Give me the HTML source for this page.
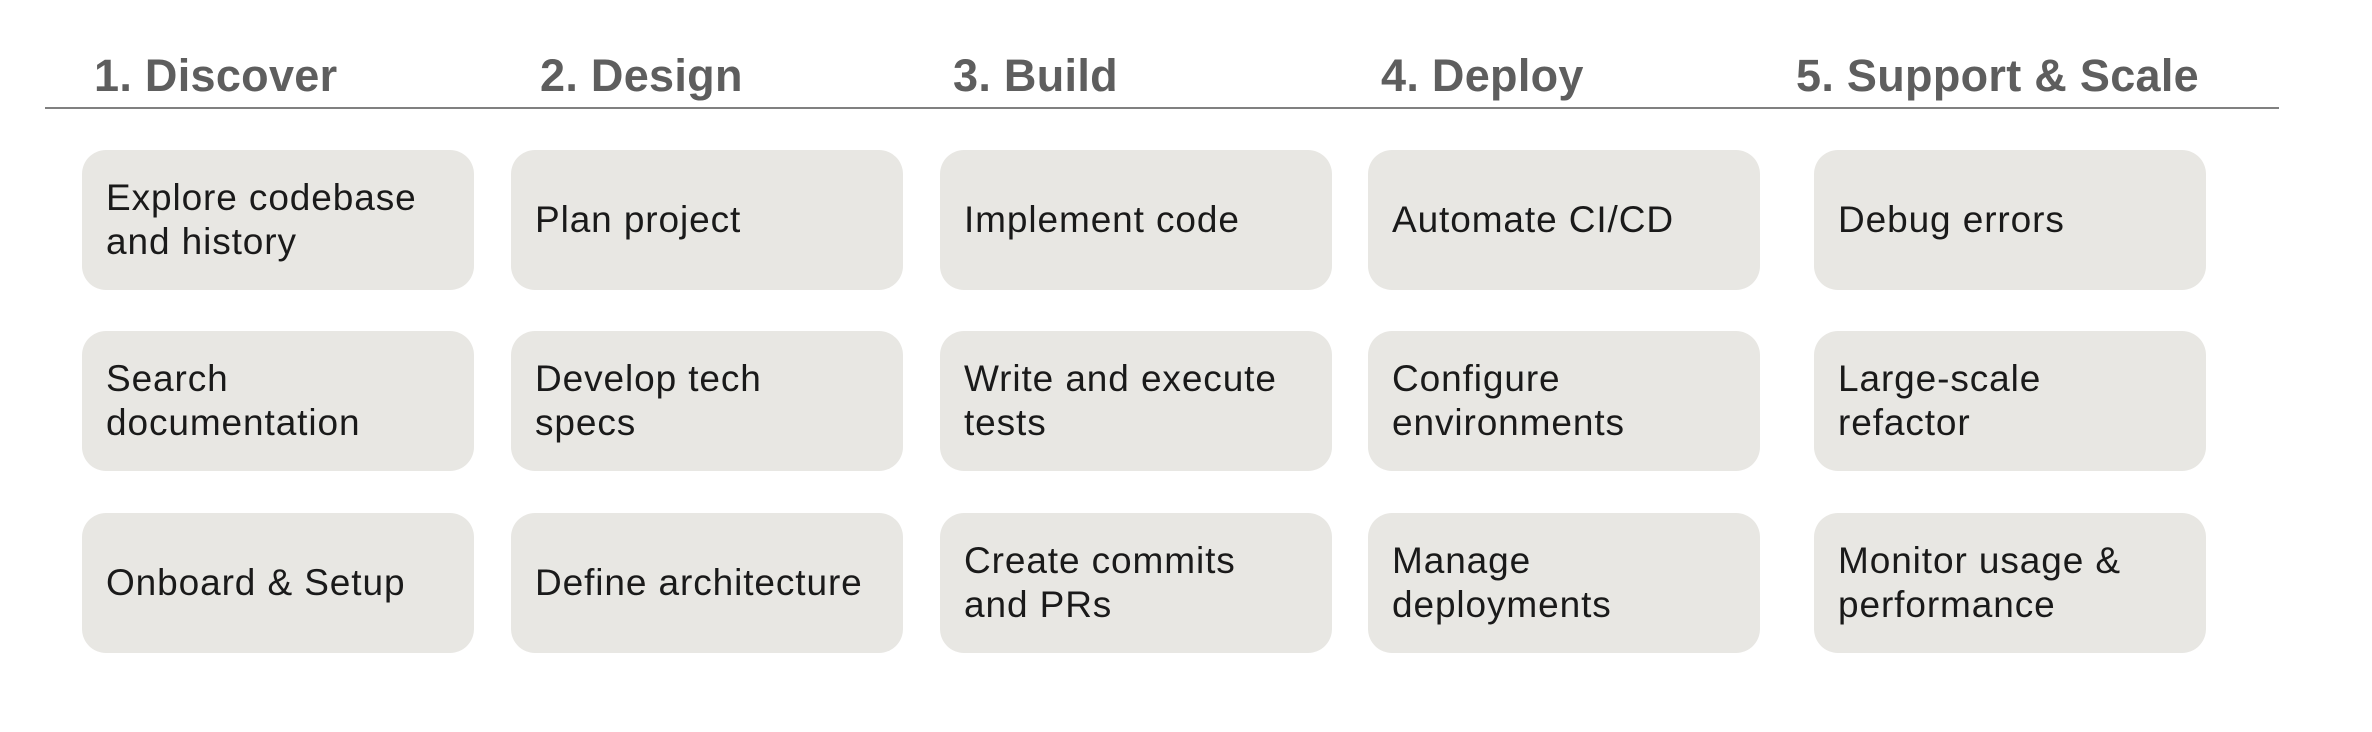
<!DOCTYPE html>
<html><head><meta charset="utf-8"><style>
html,body{margin:0;padding:0;background:#fff;}
body{width:2372px;height:732px;position:relative;overflow:hidden;font-family:"Liberation Sans",sans-serif;}
.h{position:absolute;top:50px;font-size:45px;font-weight:bold;color:#5e5e5e;line-height:52px;white-space:nowrap;letter-spacing:0.3px;}
.line{position:absolute;left:45px;top:107px;width:2234px;height:2px;background:#808080;}
.b{position:absolute;width:392px;height:140px;background:#e8e7e3;border-radius:24px;display:flex;align-items:center;box-sizing:border-box;padding-left:24px;font-size:37px;line-height:44px;color:#1a1a1a;letter-spacing:0.9px;}
</style></head><body>
<div class="h" style="left:94px">1. Discover</div>
<div class="h" style="left:540px">2. Design</div>
<div class="h" style="left:953px">3. Build</div>
<div class="h" style="left:1381px">4. Deploy</div>
<div class="h" style="left:1796px">5. Support &amp; Scale</div>
<div class="line"></div>

<div class="b" style="left:82px;top:150px">Explore codebase<br>and history</div>
<div class="b" style="left:82px;top:331px">Search<br>documentation</div>
<div class="b" style="left:82px;top:513px">Onboard &amp; Setup</div>

<div class="b" style="left:511px;top:150px">Plan project</div>
<div class="b" style="left:511px;top:331px">Develop tech<br>specs</div>
<div class="b" style="left:511px;top:513px">Define architecture</div>

<div class="b" style="left:940px;top:150px">Implement code</div>
<div class="b" style="left:940px;top:331px">Write and execute<br>tests</div>
<div class="b" style="left:940px;top:513px">Create commits<br>and PRs</div>

<div class="b" style="left:1368px;top:150px">Automate CI/CD</div>
<div class="b" style="left:1368px;top:331px">Configure<br>environments</div>
<div class="b" style="left:1368px;top:513px">Manage<br>deployments</div>

<div class="b" style="left:1814px;top:150px">Debug errors</div>
<div class="b" style="left:1814px;top:331px">Large-scale<br>refactor</div>
<div class="b" style="left:1814px;top:513px">Monitor usage &amp;<br>performance</div>
</body></html>
